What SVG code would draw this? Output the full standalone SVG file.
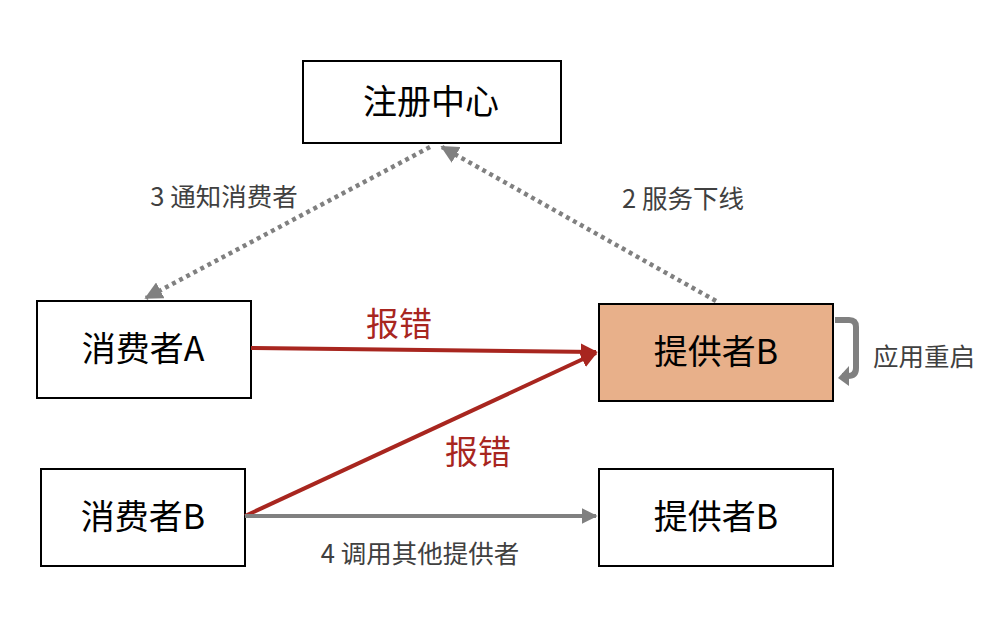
<svg xmlns="http://www.w3.org/2000/svg" width="996" height="644" viewBox="0 0 996 644">
<style>
.box{fill:#fff;stroke:#000;stroke-width:2}
.t{font-family:"Noto Sans CJK SC","Liberation Sans",sans-serif;font-size:34px;fill:#000;text-anchor:middle}
.lbl{font-family:"Noto Sans CJK SC","Liberation Sans",sans-serif;font-size:25.5px;fill:#404040;text-anchor:middle}
.err{font-family:"Noto Sans CJK SC","Liberation Sans",sans-serif;font-size:33px;fill:#a8261f;text-anchor:middle}
.dot{fill:none;stroke:#808080;stroke-width:4.5;stroke-dasharray:4 4}
</style>
<defs>
<marker id="ag" viewBox="0 0 10 10" refX="9" refY="5" markerWidth="4" markerHeight="4" orient="auto" markerUnits="strokeWidth"><path d="M0 0L10 5L0 10z" fill="#808080"/></marker>
<marker id="ar" viewBox="0 0 10 10" refX="9" refY="5" markerWidth="4.2" markerHeight="4.2" orient="auto" markerUnits="strokeWidth"><path d="M0 0L10 5L0 10z" fill="#a8261f"/></marker>
</defs>
<rect width="996" height="644" fill="#fff"/>
<g id="registry"><rect class="box" x="303" y="61" width="258" height="82"/><text class="t" x="431" y="114">注册中心</text></g>
<g id="consumerA"><rect class="box" x="37" y="301" width="214" height="97"/><text class="t" x="143" y="361">消费者A</text></g>
<g id="providerB1"><rect x="599" y="304" width="234" height="97" fill="#e8b08a" stroke="#000" stroke-width="2"/><text class="t" x="716" y="364">提供者B</text></g>
<g id="consumerB"><rect class="box" x="41" y="469" width="204" height="97"/><text class="t" x="143" y="529">消费者B</text></g>
<g id="providerB2"><rect class="box" x="599" y="469" width="234" height="97"/><text class="t" x="716" y="529">提供者B</text></g>
<g id="connectors">
<path class="dot" d="M716 301L442 147" marker-end="url(#ag)"/>
<path class="dot" d="M430 147L146 298" marker-end="url(#ag)"/>
<path d="M251 348L596 352" stroke="#a8261f" stroke-width="4" fill="none" marker-end="url(#ar)"/>
<path d="M245 516L596 353" stroke="#a8261f" stroke-width="4" fill="none" marker-end="url(#ar)"/>
<path d="M245 516L596 516" stroke="#808080" stroke-width="4" fill="none" marker-end="url(#ag)"/>
<path d="M835 320H849Q856 320 856 327V368Q856 376 848 376H842" stroke="#808080" stroke-width="6" fill="none"/>
<path d="M849 366L838 378L849 386z" fill="#808080"/>
</g>
<g id="labels">
<text class="lbl" x="224" y="206">3 通知消费者</text>
<text class="lbl" x="683" y="208">2 服务下线</text>
<text class="lbl" x="924" y="366">应用重启</text>
<text class="lbl" x="420" y="563">4 调用其他提供者</text>
<text class="err" x="399" y="336">报错</text>
<text class="err" x="478" y="464">报错</text>
</g>
</svg>
